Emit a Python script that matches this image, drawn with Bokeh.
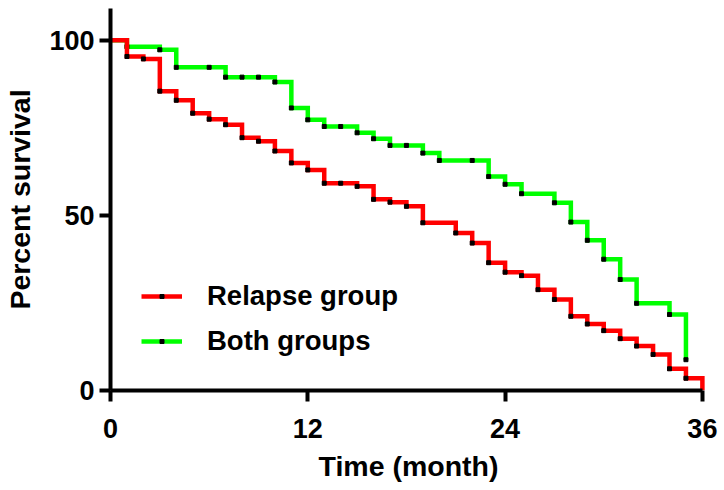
from bokeh.plotting import figure
from bokeh.models import Range1d, Legend, LegendItem
from bokeh.embed import file_html
from bokeh.resources import INLINE

# Data (time in months, percent survival)
relapse_t = [0, 1, 2, 3, 4, 5, 6, 7, 8, 9, 10, 11, 12, 13, 14, 15, 16, 17, 18, 19,
             21, 22, 23, 24, 25, 26, 27, 28, 29, 30, 31, 32, 33, 34, 35, 36]
relapse_s = [100, 95.4, 94.7, 85.5, 82.9, 79.2, 77.5, 75.9, 72.2, 71.2, 68.4, 65.0,
             63.0, 59.2, 59.2, 58.3, 54.6, 53.8, 52.6, 47.9,
             45.0, 42.1, 36.5, 33.8, 32.8, 28.8, 26.0, 21.2, 19.0, 17.1, 14.8, 12.7,
             10.3, 6.2, 3.5, 0]

both_t = [0, 1, 3, 4, 6, 7, 8, 9, 10, 11, 12, 13, 14, 15, 16, 17, 18, 19, 20,
          22, 23, 24, 25, 27, 28, 29, 30, 31, 32, 34, 35]
both_s = [100, 98.2, 97.3, 92.3, 92.3, 89.5, 89.5, 89.5, 88.1, 80.7, 77.3, 75.4,
          75.4, 73.6, 71.9, 70.0, 70.0, 67.8, 65.7,
          65.7, 61.1, 58.9, 56.2, 53.6, 48.1, 42.9, 37.5, 31.7, 24.9, 21.7, 8.8]

x_ticks = [0, 12, 24, 36]
y_ticks = [0, 50, 100]
series_names = ["Relapse group", "Both groups"]

FONT = "Liberation Sans"

p = figure(width=724, height=490, output_backend="svg", toolbar_location=None,
           x_range=Range1d(0, 36.25), y_range=Range1d(0, 109.1),
           min_border_left=110, min_border_right=18, min_border_top=8,
           min_border_bottom=100)
p.outline_line_color = None
p.grid.visible = False
p.background_fill_color = "white"

# Green (both groups) first, red on top
g_line = p.step(both_t, both_s, mode="after", line_color="#00FF00", line_width=4.5,
                line_join="miter")
g_dots = p.scatter(both_t[1:], both_s[1:], marker="square", size=4,
                   color="black")
r_line = p.step(relapse_t, relapse_s, mode="after", line_color="#FF0000",
                line_width=4.5, line_join="miter")
r_dots = p.scatter(relapse_t[1:-1], relapse_s[1:-1], marker="square", size=4,
                   color="black")

for ax in (p.xaxis[0], p.yaxis[0]):
    ax.axis_line_width = 4
    ax.axis_line_color = "black"
    ax.major_tick_line_width = 4
    ax.major_tick_line_color = "black"
    ax.major_tick_out = 11
    ax.major_tick_in = 0
    ax.minor_tick_line_color = None
    ax.major_label_text_font = FONT
    ax.major_label_text_font_style = "bold"
    ax.major_label_text_font_size = "27px"
    ax.major_label_text_color = "black"
    ax.axis_label_text_font = FONT
    ax.axis_label_text_font_style = "bold"
    ax.axis_label_text_font_size = "28.5px"
    ax.axis_label_text_color = "black"

p.xaxis.ticker = x_ticks
p.yaxis.ticker = y_ticks
p.xaxis.bounds = (0, 36)
p.xaxis.axis_label = "Time (month)"
p.yaxis.axis_label = "Percent survival"
p.xaxis.major_label_standoff = 17
p.yaxis.major_label_standoff = 5
p.xaxis.axis_label_standoff = 9
p.yaxis.axis_label_standoff = 10

legend = Legend(items=[LegendItem(label=series_names[0], renderers=[r_line, r_dots]),
                       LegendItem(label=series_names[1], renderers=[g_line, g_dots])],
                location=(31, 29), padding=0, margin=0, spacing=5,
                glyph_width=41, glyph_height=10, label_height=40,
                label_standoff=25, border_line_color=None,
                background_fill_alpha=0)
legend.label_text_font = FONT
legend.label_text_font_style = "bold"
legend.label_text_font_size = "27.5px"
legend.label_text_color = "black"
p.add_layout(legend)

open("out.html", "w").write(file_html(p, INLINE))
